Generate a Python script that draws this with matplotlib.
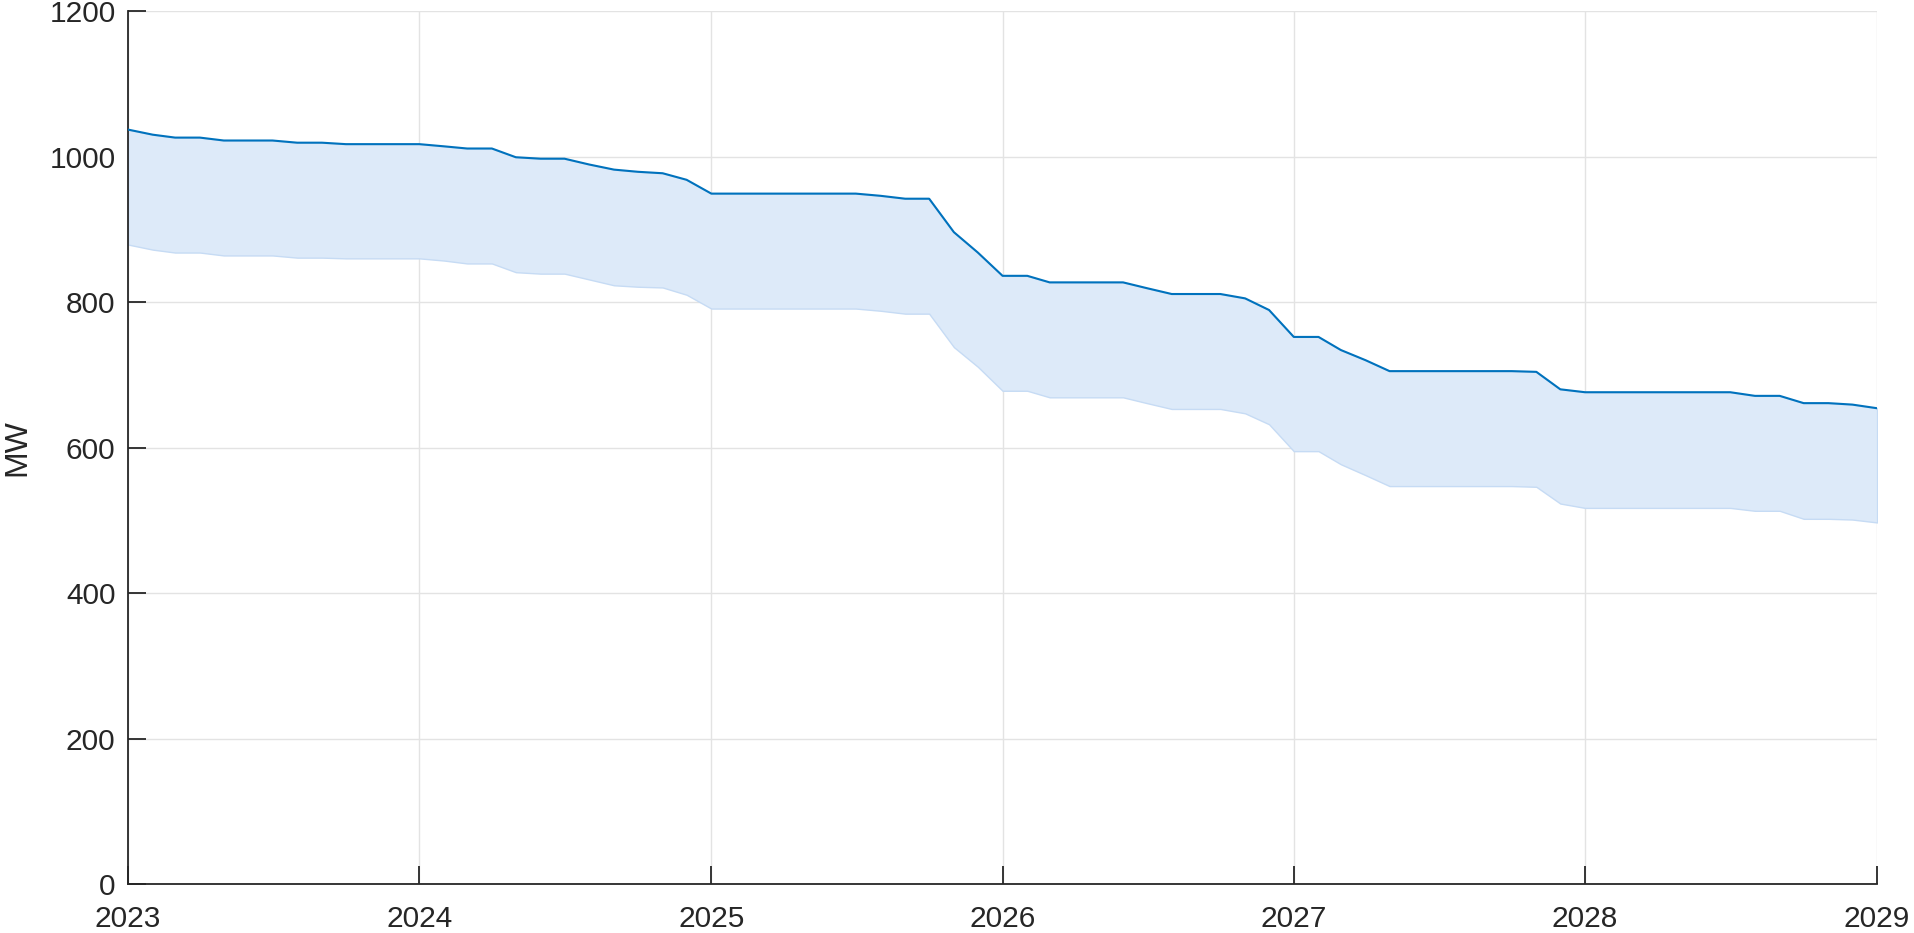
import numpy as np
import pandas as pd
import matplotlib
matplotlib.use("Agg")
import matplotlib.pyplot as plt
import matplotlib.dates as mdates

plt.rcParams['font.family'] = ['Liberation Sans', 'DejaVu Sans']

# monthly capacity band, Jan 2023 .. Jan 2029
months = pd.date_range("2023-01-01", "2029-01-01", freq="MS")

upper = [1037, 1030, 1026, 1026, 1022, 1022, 1022, 1019, 1019, 1017, 1017, 1017,
         1017, 1014, 1011, 1011, 999, 997, 997, 989, 982, 979, 977, 968,
         949, 949, 949, 949, 949, 949, 949, 946, 942, 942, 896, 868,
         836, 836, 827, 827, 827, 827, 819, 811, 811, 811, 805, 789,
         752, 752, 734, 720, 705, 705, 705, 705, 705, 705, 704, 680,
         676, 676, 676, 676, 676, 676, 676, 671, 671, 661, 661, 659,
         654]

lower = [879, 872, 868, 868, 864, 864, 864, 861, 861, 860, 860, 860,
         860, 857, 853, 853, 841, 839, 839, 831, 823, 821, 820, 810,
         791, 791, 791, 791, 791, 791, 791, 788, 784, 784, 738, 711,
         678, 678, 669, 669, 669, 669, 661, 653, 653, 653, 647, 632,
         595, 595, 577, 562, 547, 547, 547, 547, 547, 547, 546, 523,
         517, 517, 517, 517, 517, 517, 517, 513, 513, 502, 502, 501,
         497]

year_ticks = pd.date_range("2023-01-01", "2029-01-01", freq="YS")
mw_ticks = [0, 200, 400, 600, 800, 1000, 1200]

fig = plt.figure(figsize=(19.14, 9.33), dpi=100)
ax = fig.add_axes([0.0669, 0.0525, 0.9138, 0.9357])

ax.fill_between(months, lower, upper, facecolor='#DDEAF9', edgecolor='#C6DBF4',
                linewidth=1.0, zorder=2)
ax.plot(months, upper, color='#0072BD', linewidth=1.5, zorder=3)

ax.set_xlim(months[0], months[-1])
ax.set_ylim(0, 1200)
ax.set_xticks(year_ticks)
ax.xaxis.set_major_formatter(mdates.DateFormatter('%Y'))
ax.set_yticks(mw_ticks)

ax.set_axisbelow(True)
ax.grid(True, color='#E3E3E3', linewidth=1.0)
for side in ('top', 'right'):
    ax.spines[side].set_visible(False)
for side in ('left', 'bottom'):
    ax.spines[side].set_color('#262626')
    ax.spines[side].set_linewidth(1.3)

ax.tick_params(direction='in', length=13, width=1.3, color='#262626',
               labelsize=21.5, labelcolor='#262626')
ax.tick_params(axis='x', pad=15)
ax.tick_params(axis='y', pad=9)

ax.set_ylabel('MW', fontsize=23, color='#262626', labelpad=12)

fig.savefig('out.png', dpi=100)
